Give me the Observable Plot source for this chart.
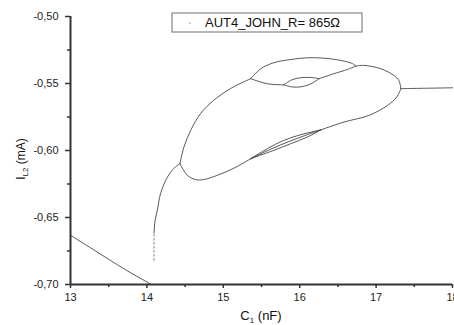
<!DOCTYPE html>
<html><head><meta charset="utf-8">
<script src="https://cdn.jsdelivr.net/npm/d3@7"></script>
<script src="https://cdn.jsdelivr.net/npm/@observablehq/plot@0.6"></script>
<style>body{margin:0;background:#fff} #chart{width:454px;height:325px}</style>
</head><body><div id="chart"></div>
<script>
// Tick values
const xTicks = [13, 14, 15, 16, 17, 18];
const xMinor = [13.5, 14.5, 15.5, 16.5, 17.5];
const yTicks = [-0.70, -0.65, -0.60, -0.55, -0.50];
const yMinor = [-0.675, -0.625, -0.575, -0.525];
const legendLabel = "AUT4_JOHN_R= 865Ω";

// Branches of the diagram: [C1 (nF), IL2 (mA)]
const branchLeft = [[13.00,-0.6632],[13.25,-0.6722],[13.50,-0.6812],[13.75,-0.6900],[14.05,-0.6997]];
const branchRiseDotted = [[14.092,-0.6818],[14.093,-0.6700],[14.094,-0.6617]];
const branchRise = [[14.094,-0.6617],[14.105,-0.6530],[14.136,-0.6446],[14.180,-0.6319],[14.267,-0.6200],[14.354,-0.6133],[14.432,-0.6098]];
const branchUpper = [[14.432,-0.6098],[14.485,-0.5974],[14.573,-0.5850],[14.704,-0.5723],[14.874,-0.5626],[15.097,-0.5537],[15.359,-0.5464]];
const ellipseTop = [[15.359,-0.5464],[15.490,-0.5390],[15.661,-0.5345],[15.883,-0.5321],[16.102,-0.5308],[16.320,-0.5311],[16.539,-0.5328],[16.692,-0.5352],[16.735,-0.5370]];
const ellipseBottomLeft = [[15.359,-0.5464],[15.578,-0.5502],[15.792,-0.5510]];
const smallLoopUpper = [[15.792,-0.5510],[15.896,-0.5473],[16.014,-0.5457],[16.145,-0.5455],[16.254,-0.5464]];
const smallLoopLower = [[15.792,-0.5510],[15.896,-0.5525],[16.014,-0.5525],[16.145,-0.5503],[16.254,-0.5464]];
const ellipseBottomRight = [[16.254,-0.5464],[16.447,-0.5427],[16.626,-0.5395],[16.735,-0.5370]];
const branchUpperRight = [[16.735,-0.5370],[16.840,-0.5365],[17.063,-0.5390],[17.233,-0.5440],[17.300,-0.5480],[17.325,-0.5538]];
const branchTail = [[17.325,-0.5538],[17.70,-0.5535],[18.00,-0.5532]];
const branchLower = [[14.432,-0.6098],[14.529,-0.6185],[14.638,-0.6217],[14.743,-0.6217],[14.923,-0.6185],[15.136,-0.6133],[15.359,-0.6061]];
const lensLower = [[15.359,-0.6061],[15.661,-0.5999],[15.883,-0.5949],[16.102,-0.5899],[16.277,-0.5846]];
const lensMiddle = [[15.359,-0.6061],[15.640,-0.5985],[15.850,-0.5935],[16.060,-0.5890],[16.277,-0.5846]];
const lensUpper = [[15.359,-0.6061],[15.578,-0.5986],[15.792,-0.5924],[16.014,-0.5882],[16.277,-0.5846]];
const branchLowerRight = [[16.277,-0.5846],[16.578,-0.5788],[16.906,-0.5738],[17.151,-0.5663],[17.270,-0.5601],[17.325,-0.5538]];

const solidBranches = {branchLeft, branchRise, branchUpper, ellipseTop, ellipseBottomLeft, smallLoopUpper, smallLoopLower,
  ellipseBottomRight, branchUpperRight, branchTail, branchLower, lensLower, lensMiddle, lensUpper, branchLowerRight};
const rows = [];
for (const [name, pts] of Object.entries(solidBranches)) for (const [x, y] of pts) rows.push({name, x, y});
const dottedRows = branchRiseDotted.map(([x, y]) => ({name: "dotted", x, y}));

const comma = d => d3.format(".2f")(d).replace(".", ",").replace("−", "-");

const plot = Plot.plot({
  width: 454, height: 325,
  marginLeft: 70, marginRight: 2, marginTop: 16, marginBottom: 41,
  x: {domain: [13, 18]},
  y: {domain: [-0.70, -0.50]},
  style: {fontFamily: "'Liberation Sans', Arial, sans-serif", fontSize: "11px", color: "#222", background: "#fff"},
  marks: [
    Plot.line(rows, {x: "x", y: "y", z: "name", curve: "catmull-rom", stroke: "#3a3a3a", strokeWidth: 0.85}),
    Plot.line(dottedRows, {x: "x", y: "y", z: "name", stroke: "#666", strokeWidth: 0.9, strokeDasharray: "1.5,2.5"}),
    Plot.axisX({ticks: xTicks, tickSize: 4, tickPadding: 5, tickFormat: d => String(d), label: null, strokeWidth: 1.5, stroke: "#333"}),
    Plot.axisX({ticks: xMinor, tickSize: 3, tickFormat: null, text: null, label: null, strokeWidth: 1.5, stroke: "#333"}),
    Plot.axisY({ticks: yTicks, tickSize: 5, tickPadding: 7, tickFormat: comma, label: null, strokeWidth: 1.5, stroke: "#333"}),
    Plot.axisY({ticks: yMinor, tickSize: 3, tickFormat: null, text: null, label: null, strokeWidth: 1.5, stroke: "#333"}),
    Plot.ruleX([13], {stroke: "#333", strokeWidth: 2}),
    Plot.ruleY([-0.70], {stroke: "#333", strokeWidth: 2})
  ]
});
document.getElementById("chart").appendChild(plot);

const svg = d3.select(plot);
const font = "'Liberation Sans', Arial, sans-serif";
// Legend box
const lg = svg.append("g");
lg.append("rect").attr("x", 172).attr("y", 13).attr("width", 190).attr("height", 19)
  .attr("fill", "#fff").attr("stroke", "#888").attr("stroke-width", 1.2);
lg.append("circle").attr("cx", 190).attr("cy", 23).attr("r", 0.7).attr("fill", "#777");
lg.append("text").attr("x", 205).attr("y", 27).attr("font-size", 13).attr("fill", "#111")
  .attr("text-anchor", "start").attr("font-family", font).text(legendLabel);

// Axis titles
const xl = svg.append("text").attr("x", 261).attr("y", 320).attr("text-anchor", "middle")
  .attr("font-size", 13).attr("fill", "#111").attr("font-family", font);
xl.append("tspan").text("C");
xl.append("tspan").attr("font-size", 8).attr("dy", 3).text("1");
xl.append("tspan").attr("dy", -3).text(" (nF)");

const yl = svg.append("text").attr("transform", "translate(25,159) rotate(-90)").attr("text-anchor", "middle")
  .attr("font-size", 12).attr("fill", "#111").attr("font-family", font);
yl.append("tspan").text("I");
yl.append("tspan").attr("font-size", 8).attr("dy", 3).text("L2");
yl.append("tspan").attr("dy", -3).text(" (mA)");
</script></body></html>
